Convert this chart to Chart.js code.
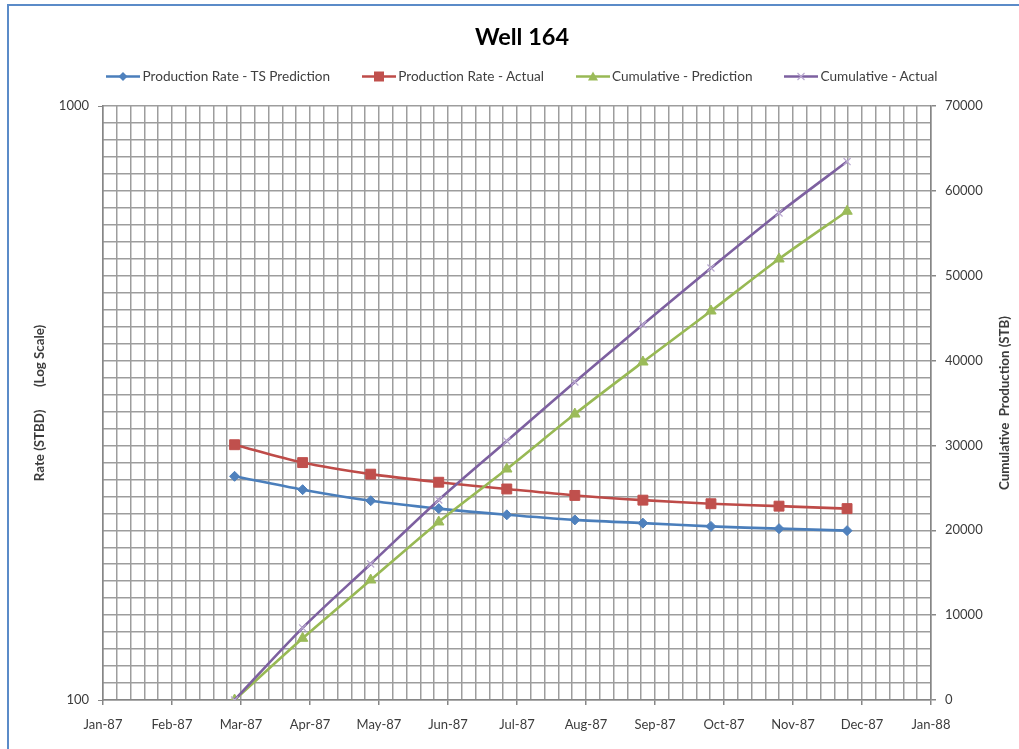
<!DOCTYPE html>
<html>
<head>
<meta charset="utf-8">
<title>Well 164</title>
<script src="https://cdn.jsdelivr.net/npm/chart.js@4/dist/chart.umd.min.js"></script>
<style>
  html, body { margin: 0; padding: 0; background: #fff; }
  #wrap { position: relative; width: 1019px; height: 749px; overflow: hidden; background: #fff; }
  #frame { position: absolute; left: 7px; top: 4px; width: 1100px; height: 900px;
           border-left: 2px solid #5b8bc8; border-top: 2px solid #5b8bc8; pointer-events: none; }
  #chart { position: absolute; left: 0; top: 0; }
  #legend { position: absolute; left: 25px; width: 994px; top: 68px; display: flex;
            justify-content: center; gap: 32px; font: 13.6px Lato, sans-serif; color: #404040; line-height: 17px; }
  #legend .item { display: flex; align-items: center; white-space: pre; }
  #legend canvas { margin-right: 2px; }
</style>
</head>
<body>
<div id="wrap">
  <canvas id="chart" width="1019" height="749"></canvas>
  <div id="legend"></div>
  <div id="frame"></div>
</div>
<script>
// Month labels along the time axis (one every twelfth of the year)
const monthLabels = ['Jan-87', 'Feb-87', 'Mar-87', 'Apr-87', 'May-87', 'Jun-87', 'Jul-87',
                     'Aug-87', 'Sep-87', 'Oct-87', 'Nov-87', 'Dec-87', 'Jan-88'];

// Sample times, days since 1 Jan 1987 (30-day reporting periods)
const sampleDays = [58, 88, 118, 148, 178, 208, 238, 268, 298, 328];

// Production rate, STB/D
const rateTsPrediction = [238, 226, 216.5, 210, 205, 201, 198.5, 196, 194.3, 192.8];
const rateActual       = [269, 251, 240, 232.6, 226.6, 221, 217, 214, 212, 210];

// Cumulative production, STB
const cumPrediction = [0, 7270, 14140, 20980, 27220, 33700, 39830, 45840, 51970, 57600];
const cumActual     = [0, 8500, 16030, 23570, 30520, 37480, 44250, 50910, 57390, 63450];

// Axis ranges and tick spacing
const rateTicks = [100, 1000];
const cumMax = 70000, cumMinorStep = 2000, cumMajorStep = 10000;
const yearDays = 365, gridPerMonth = 5;

const GRID = '#9d9d9d';
const AXIS = '#868686';
const TEXT = '#3c3c3c';

Chart.defaults.font.family = 'Lato, sans-serif';
Chart.defaults.color = TEXT;

const toPoints = ys => sampleDays.map((d, i) => ({ x: d, y: ys[i] }));

const series = [
  { label: 'Production Rate - TS Prediction', values: rateTsPrediction, axis: 'yRate',
    line: '#4A7EBB', fill: '#4F81BD', marker: 'rectRot', radius: 5, order: 3 },
  { label: 'Production Rate - Actual', values: rateActual, axis: 'yRate',
    line: '#BE4B48', fill: '#C0504D', marker: 'rect', radius: 7, order: 2 },
  { label: 'Cumulative - Prediction', values: cumPrediction, axis: 'yCum',
    line: '#98B954', fill: '#9BBB59', marker: 'triangle', radius: 6, order: 1 },
  { label: 'Cumulative - Actual', values: cumActual, axis: 'yCum',
    line: '#7D60A0', fill: '#B9A8D0', marker: 'crossRot', radius: 5, order: 0 }
];

// Rotated title for the right-hand axis (reads bottom to top, like the left one)
const sideTitle = {
  id: 'sideTitle',
  afterDraw(chart, args, opts) {
    const { ctx, chartArea } = chart;
    ctx.save();
    ctx.translate(opts.x, (chartArea.top + chartArea.bottom) / 2);
    ctx.rotate(-Math.PI / 2);
    ctx.font = 'bold 13.3px Lato, sans-serif';
    ctx.fillStyle = TEXT;
    ctx.textAlign = 'center';
    ctx.textBaseline = 'middle';
    ctx.fillText(opts.text, 0, 0);
    ctx.restore();
  }
};

const chart = new Chart(document.getElementById('chart'), {
  type: 'line',
  data: {
    datasets: series.map(s => ({
      label: s.label,
      data: toPoints(s.values),
      yAxisID: s.axis,
      order: s.order,
      borderColor: s.line,
      backgroundColor: s.fill,
      borderWidth: 2.6,
      tension: 0.3,
      pointStyle: s.marker,
      pointRadius: s.radius,
      pointBackgroundColor: s.fill,
      pointBorderColor: s.fill,
      pointBorderWidth: s.marker === 'crossRot' ? 1.2 : 1
    }))
  },
  options: {
    responsive: false,
    animation: false,
    events: [],
    layout: { padding: { left: 25, right: 0, top: 10, bottom: 0 } },
    plugins: {
      legend: { display: false },
      tooltip: { enabled: false },
      title: {
        display: true,
        text: 'Well 164',
        color: '#000',
        font: { size: 23.5, weight: 'bold', lineHeight: 1 },
        padding: { top: 16, bottom: 56.5 }
      },
      sideTitle: { text: 'Cumulative  Production (STB)', x: 1005 }
    },
    scales: {
      x: {
        type: 'linear',
        min: 0,
        max: yearDays,
        afterBuildTicks: scale => {
          const n = (monthLabels.length - 1) * gridPerMonth;
          scale.ticks = Array.from({ length: n + 1 }, (_, i) => ({ value: i * yearDays / n }));
        },
        ticks: {
          autoSkip: false,
          maxRotation: 0,
          padding: 12,
          font: { size: 13 },
          callback: (v, i) => (i % gridPerMonth === 0 ? monthLabels[i / gridPerMonth] : '')
        },
        grid: {
          color: GRID,
          lineWidth: 1.5,
          tickLength: 5,
          tickColor: c => (c.index % gridPerMonth === 0 ? AXIS : 'rgba(0,0,0,0)')
        },
        border: { color: AXIS, width: 1.5 },
        afterFit: scale => { scale.height = 49; }
      },
      yRate: {
        type: 'logarithmic',
        position: 'left',
        min: rateTicks[0],
        max: rateTicks[rateTicks.length - 1],
        afterBuildTicks: scale => { scale.ticks = rateTicks.map(v => ({ value: v })); },
        ticks: { padding: 9, font: { size: 13 }, callback: v => String(v) },
        grid: { drawOnChartArea: false, tickLength: 5, color: AXIS },
        border: { color: AXIS, width: 1.5 },
        title: {
          display: true,
          text: 'Rate (STBD)       (Log Scale)',
          font: { size: 13.3, weight: 'bold' },
          padding: { top: 7, bottom: 0 }
        },
        afterFit: scale => { scale.width = 78; }
      },
      yCum: {
        type: 'linear',
        position: 'right',
        min: 0,
        max: cumMax,
        afterBuildTicks: scale => {
          scale.ticks = Array.from({ length: cumMax / cumMinorStep + 1 }, (_, i) => ({ value: i * cumMinorStep }));
        },
        ticks: {
          autoSkip: false,
          padding: 9,
          font: { size: 13 },
          callback: v => (v % cumMajorStep === 0 ? String(v) : '')
        },
        grid: {
          color: GRID,
          lineWidth: 1.5,
          tickLength: 5,
          tickColor: c => (c.tick && c.tick.value % cumMajorStep === 0 ? AXIS : 'rgba(0,0,0,0)')
        },
        border: { color: AXIS, width: 1.5 },
        afterFit: scale => { scale.width = 88; }
      }
    }
  },
  plugins: [sideTitle]
});

// Legend: a short line with the series marker, followed by the series name
function drawKey(canvas, s) {
  const c = canvas.getContext('2d');
  const w = canvas.width, h = canvas.height, cx = w / 2, cy = h / 2;
  c.strokeStyle = s.line;
  c.lineWidth = 2.4;
  c.beginPath(); c.moveTo(0, cy); c.lineTo(w, cy); c.stroke();
  c.fillStyle = s.fill;
  c.strokeStyle = s.fill;
  c.lineWidth = 1.2;
  c.beginPath();
  if (s.marker === 'rectRot') {
    c.moveTo(cx - 4.5, cy); c.lineTo(cx, cy - 4.5); c.lineTo(cx + 4.5, cy); c.lineTo(cx, cy + 4.5);
    c.closePath(); c.fill();
  } else if (s.marker === 'rect') {
    c.rect(cx - 5, cy - 5, 10, 10); c.fill();
  } else if (s.marker === 'triangle') {
    c.moveTo(cx - 5, cy + 4); c.lineTo(cx + 5, cy + 4); c.lineTo(cx, cy - 5); c.closePath(); c.fill();
  } else {
    c.moveTo(cx - 3.5, cy - 3.5); c.lineTo(cx + 3.5, cy + 3.5);
    c.moveTo(cx + 3.5, cy - 3.5); c.lineTo(cx - 3.5, cy + 3.5); c.stroke();
  }
}

const legendBox = document.getElementById('legend');
series.forEach(s => {
  const item = document.createElement('div');
  item.className = 'item';
  const key = document.createElement('canvas');
  key.width = 34; key.height = 13;
  drawKey(key, s);
  const label = document.createElement('span');
  label.textContent = s.label;
  item.appendChild(key);
  item.appendChild(label);
  legendBox.appendChild(item);
});
</script>
</body>
</html>
